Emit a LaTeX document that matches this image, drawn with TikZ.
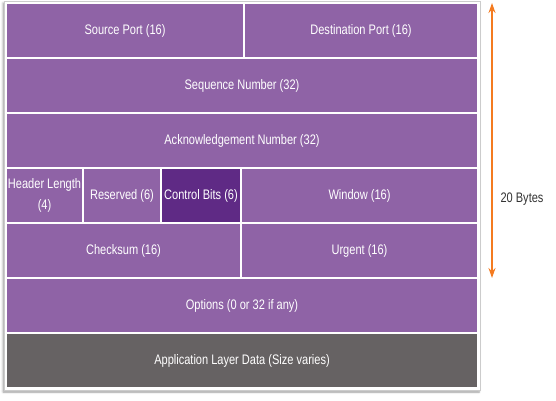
\documentclass[tikz,border=0pt]{standalone}
\usepackage{fontspec}
\setmainfont[FakeStretch=0.8]{Liberation Sans}
\usepackage{tikz}
\usetikzlibrary{positioning,arrows.meta,shadows.blur}
\definecolor{tcppurple}{HTML}{8F63A6}
\definecolor{tcpdark}{HTML}{5F2A85}
\definecolor{tcpgrey}{HTML}{666263}
\definecolor{tcporange}{HTML}{F47B20}
\definecolor{tcptext}{HTML}{333333}
\tikzset{
field/.style={rectangle, draw=white, line width=1.6pt, fill=tcppurple, text=white, minimum height=55pt, inner sep=0pt, outer sep=0pt, align=center, font=\fontsize{13.8}{15}\selectfont},
control_field/.style={field, fill=tcpdark},
data_field/.style={field, fill=tcpgrey},
frame/.style={draw=black!20, fill=white, line width=0.6pt, blur shadow={shadow xshift=-1pt, shadow yshift=-2pt, shadow blur steps=5}},
size_arrow/.style={{Stealth[length=10pt,width=7pt]}-{Stealth[length=10pt,width=7pt]}, draw=tcporange, line width=1.6pt},
bytes_label/.style={anchor=west, text=tcptext, font=\fontsize{13.8}{15}\selectfont}
}

\begin{document}
\begin{tikzpicture}
    \useasboundingbox (0,0) rectangle (556pt,-400pt);
    \draw[frame] (4pt,-1pt) rectangle (480pt,-390pt);
    % header rows
    \node[field, minimum width=238pt, anchor=north west] (src_port) at (6pt,-3pt) {Source Port (16)};
    \node[field, minimum width=234pt] (dst_port) [right=0 of src_port] {Destination Port (16)};
    \node[field, minimum width=472pt] (seq_num) [below=0 of src_port.south west, anchor=north west] {Sequence Number (32)};
    \node[field, minimum width=472pt] (ack_num) [below=0 of seq_num] {Acknowledgement Number (32)};
    \node[field, minimum width=77pt] (hdr_len) [below=0 of ack_num.south west, anchor=north west] {Header Length\\[6pt](4)};
    \node[field, minimum width=78pt] (reserved) [right=0 of hdr_len] {Reserved (6)};
    \node[control_field, minimum width=80pt] (ctrl_bits) [right=0 of reserved] {Control Bits (6)};
    \node[field, minimum width=237pt] (window) [right=0 of ctrl_bits] {Window (16)};
    \node[field, minimum width=235pt] (checksum) [below=0 of hdr_len.south west, anchor=north west] {Checksum (16)};
    \node[field, minimum width=237pt] (urgent) [right=0 of checksum] {Urgent (16)};
    \node[field, minimum width=472pt] (options) [below=0 of checksum.south west, anchor=north west] {Options (0 or 32 if any)};
    \node[data_field, minimum width=472pt] (app_data) [below=0 of options] {Application Layer Data (Size varies)};
    % size of the header
    \coordinate (arrow_top) at (492pt,-3pt);
    \coordinate (arrow_bottom) at (492pt,-278pt);
    \draw[size_arrow] (arrow_top) -- (arrow_bottom);
    \node[bytes_label] (bytes) at (497pt,-199pt) {20 Bytes};
\end{tikzpicture}
\end{document}
